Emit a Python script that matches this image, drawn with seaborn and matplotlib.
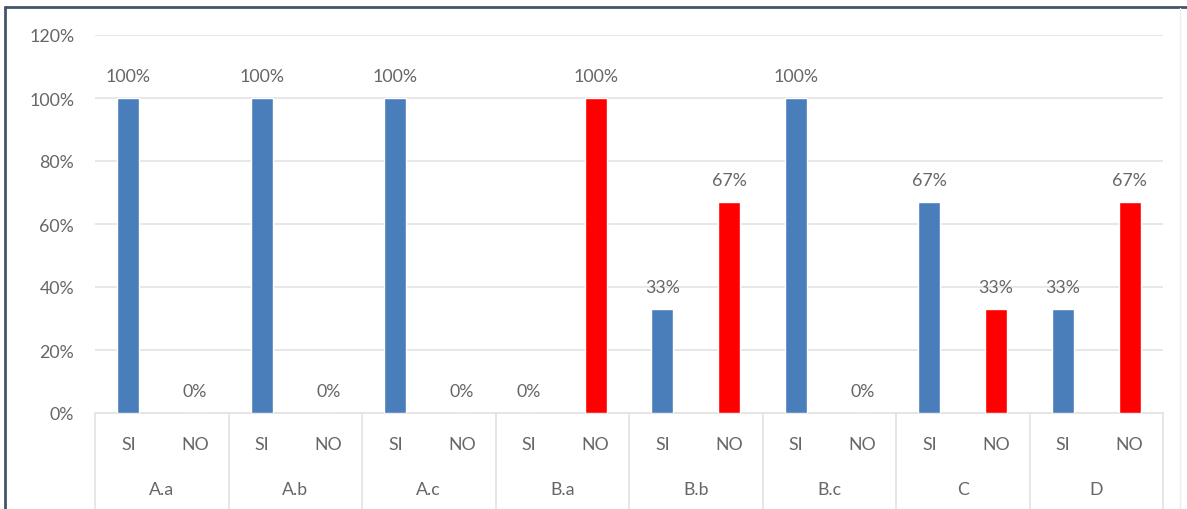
import matplotlib
matplotlib.use("Agg")
import matplotlib.pyplot as plt
import matplotlib.transforms as mtransforms
from matplotlib.lines import Line2D
import seaborn as sns
import pandas as pd

# Data
groups = ["A.a", "A.b", "A.c", "B.a", "B.b", "B.c", "C", "D"]
answers = ["SI", "NO"]
si_values = [1.00, 1.00, 1.00, 0.00, 0.33, 1.00, 0.67, 0.33]
no_values = [0.00, 0.00, 0.00, 1.00, 0.67, 0.00, 0.33, 0.67]
y_ticks = [0.0, 0.2, 0.4, 0.6, 0.8, 1.0, 1.2]

rows = []
for g, s, n in zip(groups, si_values, no_values):
    rows.append({"slot": f"{g}|SI", "group": g, "answer": "SI", "value": s})
    rows.append({"slot": f"{g}|NO", "group": g, "answer": "NO", "value": n})
df = pd.DataFrame(rows)
slot_order = list(df["slot"])

sns.set_theme(style="white")
plt.rcParams["font.family"] = ["Lato", "DejaVu Sans"]

text_color = "#666666"
grid_color = "#E3E3E3"
palette = {"SI": "#4A7EBB", "NO": "#FF0000"}
fs = 12.8

W, H = 1187, 510
fig = plt.figure(figsize=(W / 100, H / 100), dpi=100)
fig.patch.set_facecolor("white")
ax = fig.add_axes([95 / W, 1 - 414 / H, (1163 - 95) / W, (414 - 36) / H])

sns.barplot(data=df, x="slot", y="value", hue="answer", order=slot_order,
            palette=palette, dodge=False, width=0.33, saturation=1,
            legend=False, ax=ax, zorder=3)

ax.set_ylim(0, 1.2)
ax.set_xlim(-0.5, len(slot_order) - 0.5)
ax.set_yticks(y_ticks)
ax.set_yticklabels([f"{t:.0%}" for t in y_ticks], color=text_color, fontsize=fs)
ax.yaxis.grid(True, color=grid_color, linewidth=1.2, zorder=0)
ax.tick_params(axis="y", length=0, pad=15)
ax.tick_params(axis="x", length=0)
for side in ["top", "right", "left"]:
    ax.spines[side].set_visible(False)
ax.spines["bottom"].set_color(grid_color)
ax.spines["bottom"].set_linewidth(1.2)
ax.set_xlabel("")
ax.set_ylabel("")

# Value labels above each bar
for container in ax.containers:
    ax.bar_label(container, labels=[f"{v:.0%}" if v == v else "" for v in container.datavalues],
                 padding=10, color=text_color, fontsize=fs)

# Two-level category axis: answers, then groups with separators
ax.set_xticks(range(len(slot_order)))
ax.set_xticklabels([])
trans = mtransforms.blended_transform_factory(ax.transData, fig.transFigure)
y_ans = 1 - 445 / H
y_grp = 1 - 490 / H
for i, slot in enumerate(slot_order):
    ax.text(i, y_ans, slot.split("|")[1], transform=trans, ha="center",
            va="center", color=text_color, fontsize=fs)
for k, g in enumerate(groups):
    ax.text(2 * k + 0.5, y_grp, g, transform=trans, ha="center", va="center",
            color=text_color, fontsize=fs)
for k in range(len(groups) + 1):
    x = 2 * k - 0.5
    ax.add_line(Line2D([x, x], [1 - 414 / H, 0], transform=trans,
                       color=grid_color, linewidth=1.2, clip_on=False))

# Chart frame
frame_color = "#44546A"
fig.add_artist(Line2D([5 / W, 5 / W], [0, 1 - 8 / H], color=frame_color,
                      linewidth=2, transform=fig.transFigure))
fig.add_artist(Line2D([5 / W, 1], [1 - 8 / H, 1 - 8 / H], color=frame_color,
                      linewidth=2, transform=fig.transFigure))
fig.add_artist(Line2D([1180 / W, 1180 / W], [0, 1 - 9 / H], color="#EEEEEE",
                      linewidth=1, transform=fig.transFigure))

fig.savefig("out.png", dpi=100, facecolor="white")
